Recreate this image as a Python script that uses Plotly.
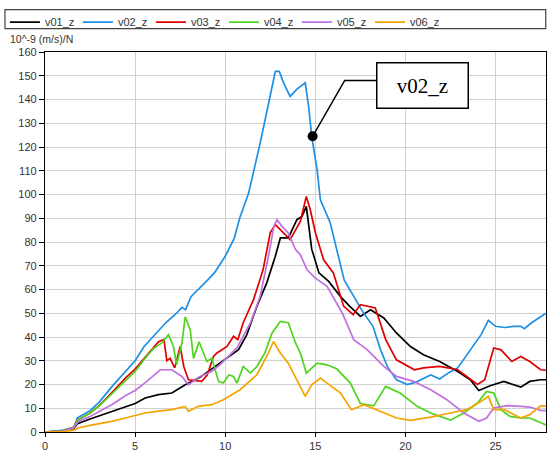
import plotly.graph_objects as go

# ---------------- data ----------------
series_names = ["v01_z", "v02_z", "v03_z", "v04_z", "v05_z", "v06_z"]
series_colors = ["#000000", "#1e90e6", "#e00000", "#4fd41f", "#c070e0", "#f5a300"]

v01_x = [0, 1, 1.6, 1.8, 2.5, 3, 3.7, 4.5, 5, 5.56, 6.3, 7.04, 7.78, 8.6, 9.9, 10.74, 11.2, 11.76, 12.3, 12.78,
         13.06, 13.5, 13.98, 14.26, 14.5, 14.8, 15.2, 15.74, 16.4, 16.9, 17.5, 18.06, 18.8, 19.5, 20.28, 21, 21.9,
         22.9, 23.6, 24.07, 24.7, 25.46, 26.4, 26.9, 27.5, 27.8]
v01_y = [0, 0.3, 1.5, 3.5, 5.5, 6.8, 8.7, 11, 12, 14.3, 15.7, 16.4, 19.9, 23, 30, 34.7, 41, 53, 62.7, 74,
         81.7, 81.7, 89.4, 90.8, 95, 77, 67, 63.4, 57, 53, 48.7, 51.5, 48, 41.7, 36, 32.5, 29.7,
         25.5, 22, 17.5, 19.5, 21.3, 18.9, 21.3, 22, 22]

v02_x = [0, 1, 1.6, 1.8, 2.5, 3, 3.7, 4.5, 5, 5.5, 6, 6.7, 7.3, 7.6, 7.8, 8.1, 8.9, 9.4, 10, 10.5, 10.8, 11.3,
         11.94, 12.5, 12.78, 13.0, 13.24, 13.6, 13.98, 14.44, 14.63, 14.8, 15.1, 15.28, 15.83, 16.6, 17.2, 17.6,
         18.2, 18.6, 19, 19.5, 20.1, 20.6, 21, 21.4, 21.9, 22.4, 22.9, 23.6, 24.2, 24.6, 25, 25.5, 26, 26.4,
         26.6, 27, 27.5, 27.8]
v02_y = [0, 0.8, 2, 6, 9, 12.5, 19, 26, 30, 36, 40, 46, 50, 52.5, 51.5, 57, 63, 67, 74, 81.5, 90, 100.6,
         121.7, 142.7, 151.8, 151.8, 147, 141.3, 144.4, 147, 137, 124.5, 110.4, 97.8, 88, 64, 56, 51,
         44.5, 35, 27.5, 22, 20, 21, 22.5, 24, 22.3, 25, 27, 34.5, 41, 47, 44.5, 44, 44.5, 44.5,
         43.5, 46, 48.5, 50]

v03_x = [0, 1, 1.6, 1.8, 2.5, 3, 3.7, 4.5, 5, 5.5, 5.7, 6.3, 6.6, 6.76, 6.94, 7.2, 7.5, 7.7, 7.96, 8.7, 9.0,
         9.35, 9.54, 10.1, 10.46, 10.7, 11, 11.57, 12.1, 12.5, 12.78, 13.24, 13.6, 14.17, 14.5, 14.72, 15, 15.46,
         16, 16.57, 17.1, 17.5, 18.33, 18.9, 19.5, 20.5, 21, 21.9, 22.9, 24, 24.4, 24.9, 25.3, 25.9, 26.4,
         26.9, 27.5, 27.8]
v03_y = [0, 0.5, 2, 5, 8, 11, 16.5, 23, 26.5, 31, 33, 38, 39, 30, 31, 27, 36, 27.6, 22, 21.3, 24,
         31.8, 33.3, 36, 40.3, 38.9, 46, 55.7, 68.3, 84, 87.3, 84, 81, 88.7, 99.2, 93.6, 84, 72.5,
         67, 53, 49.4, 53.6, 52.2, 39, 30.4, 26.2, 27, 27.6, 26.2, 20, 22, 35.4, 34.6, 29.7, 31.8,
         29.7, 26.2, 26]

v04_x = [0, 1, 1.6, 1.8, 2.5, 3, 3.7, 4.5, 5, 5.5, 6, 6.48, 6.85, 7.13, 7.3, 7.6, 7.78, 8.06, 8.24, 8.55,
         8.98, 9.26, 9.63, 9.9, 10.2, 10.46, 10.65, 11, 11.4, 11.76, 12.2, 12.6, 13.06, 13.5, 13.9, 14.17,
         14.5, 15.1, 15.65, 16.2, 16.94, 17.5, 18.24, 18.9, 19.7, 20.65, 21.4, 22.5, 23.24, 24, 24.5, 24.9,
         25.3, 25.8, 26.4, 26.9, 27.5, 27.8]
v04_y = [0, 0.5, 2, 5, 8, 11, 16, 22, 25.5, 30.5, 35, 37.5, 41, 36, 28.3, 37.5, 48.5, 43, 31, 38,
         29.7, 31, 21.3, 20.6, 24, 23.4, 20.6, 27.6, 24.8, 27.6, 33.3, 41.7, 46.6, 46, 37.5, 33.3,
         24.8, 29, 28.3, 26.5, 20.6, 12, 11, 19.2, 16.4, 10.8, 8, 5, 8, 12.2, 17.1, 16.4,
         9.4, 6.6, 5.9, 5.9, 3.8, 3]

v05_x = [0, 1, 1.6, 1.85, 2.5, 3, 3.7, 4.5, 5, 5.6, 6.4, 7.04, 7.6, 7.96, 8.33, 8.6, 9.26, 9.7, 10.65, 11.4,
         11.94, 12.4, 12.7, 12.87, 13.15, 13.5, 13.9, 14.17, 14.54, 15, 15.65, 16.2, 16.5, 17.13, 17.87, 18.8,
         19.5, 20.46, 21.4, 22.3, 23.24, 24.07, 24.5, 24.9, 25.65, 26.4, 26.9, 27.5, 27.8]
v05_y = [0, 0.4, 1.8, 4.5, 6.5, 8.5, 11.5, 15.5, 17.5, 21, 26.2, 26.2, 23.4, 19.9, 22, 23.4, 25.5, 28.3, 35.4, 45.9,
         57.1, 74, 86.6, 89.4, 86.6, 83.8, 76.8, 74.6, 68.3, 64.8, 61.3, 53.6, 50, 38.9, 34.7, 27.6,
         23.4, 21.3, 17.8, 13.6, 8, 4.5, 5.9, 10.1, 11.1, 10.8, 10.5, 9.1, 9]

v06_x = [0, 1, 1.6, 1.85, 2.5, 3, 3.7, 4.5, 5.56, 6.3, 7.04, 7.78, 7.96, 8.5, 9.26, 9.9, 10.83, 11.76, 12.3,
         12.68, 13.06, 13.5, 13.98, 14.44, 14.8, 15.28, 15.65, 16.4, 17, 17.7, 18.4, 19.5, 20.28, 21.4, 22.5,
         23.4, 24.2, 24.6, 24.9, 25.5, 26.4, 26.9, 27.5, 27.8]
v06_y = [0, 0.2, 0.8, 1.7, 2.8, 3.5, 4.5, 6, 8, 8.8, 9.4, 10.8, 8.7, 10.8, 11.5, 13.6, 17.8, 24.1, 31.8,
         38.1, 33.3, 29, 22, 15, 19.9, 22.7, 20.6, 16.4, 9.4, 11.5, 9.4, 5.9, 4.9, 6.3, 8,
         9.4, 12.9, 15, 9.4, 9.4, 5.9, 7.3, 11, 11]

series_x = [v01_x, v02_x, v03_x, v04_x, v05_x, v06_x]
series_y = [v01_y, v02_y, v03_y, v04_y, v05_y, v06_y]

x_ticks = [0, 5, 10, 15, 20, 25]
y_ticks = [0, 10, 20, 30, 40, 50, 60, 70, 80, 90, 100, 110, 120, 130, 140, 150, 160]
x_range = [0, 27.8]
y_range = [0, 160]
y_unit = "10^-9 (m/s)/N"

callout_text = "v02_z"
callout_point = (14.85, 124.5)
callout_elbow = (16.63, 148.0)
callout_box_left = (18.39, 148.0)
callout_box_center = (20.97, 145.9)

# ---------------- figure ----------------
fig = go.Figure()
for name, xs, ys, col in zip(series_names, series_x, series_y, series_colors):
    fig.add_trace(go.Scatter(x=xs, y=ys, mode="lines", name=name,
                             line=dict(color=col, width=1.7)))

fig.add_trace(go.Scatter(x=[callout_point[0]], y=[callout_point[1]], mode="markers",
                         marker=dict(color="black", size=10), showlegend=False, hoverinfo="skip"))

fig.add_shape(type="path",
              path=f"M {callout_point[0]} {callout_point[1]} L {callout_elbow[0]} {callout_elbow[1]} "
                   f"L {callout_box_left[0]} {callout_box_left[1]}",
              xref="x", yref="y", line=dict(color="black", width=1.5))

fig.add_annotation(x=callout_box_center[0], y=callout_box_center[1], xref="x", yref="y",
                   text=callout_text, showarrow=False,
                   font=dict(family="Liberation Serif", size=21, color="black"),
                   bordercolor="black", borderwidth=1.5, bgcolor="white",
                   width=88, height=42)

fig.add_annotation(x=-0.074, y=1.035, xref="paper", yref="paper", xanchor="left", yanchor="middle",
                   text=y_unit, showarrow=False,
                   font=dict(family="Liberation Sans, Arial", size=10.5, color="#333333"))

# legend frame
fig.add_shape(type="rect", xref="paper", yref="paper",
              x0=-0.0799, x1=0.9995, y0=(432.3 - 29) / 380, y1=(432.3 - 10) / 380,
              line=dict(color="#444444", width=1.2), fillcolor="white", layer="below")

fig.update_layout(
    width=547, height=456,
    margin=dict(l=45, r=1, t=52, b=24),
    paper_bgcolor="white", plot_bgcolor="white",
    font=dict(family="Liberation Sans, Arial", size=11, color="#333333"),
    showlegend=True,
    legend=dict(orientation="h", x=-0.08, xanchor="left", y=(432.3 - 8) / 380, yanchor="top",
                bgcolor="rgba(0,0,0,0)", borderwidth=0, font=dict(size=11, color="#333333"),
                itemwidth=30, tracegroupgap=0, entrywidth=28, entrywidthmode="pixels"),
)
fig.update_xaxes(range=x_range, tickvals=x_ticks, showgrid=True, gridcolor="#d0d0d0", gridwidth=1,
                 showline=True, linecolor="black", linewidth=1.3, mirror=True,
                 ticks="outside", ticklen=4, tickcolor="black", zeroline=False)
fig.update_yaxes(range=y_range, tickvals=y_ticks, showgrid=True, gridcolor="#d0d0d0", gridwidth=1,
                 showline=True, linecolor="black", linewidth=1.3, mirror=True,
                 ticks="outside", ticklen=5, tickcolor="black", zeroline=False)

fig.write_html("out.html", config={"displayModeBar": False},
               post_script="document.body.style.margin='0';document.body.style.overflow='hidden';")
